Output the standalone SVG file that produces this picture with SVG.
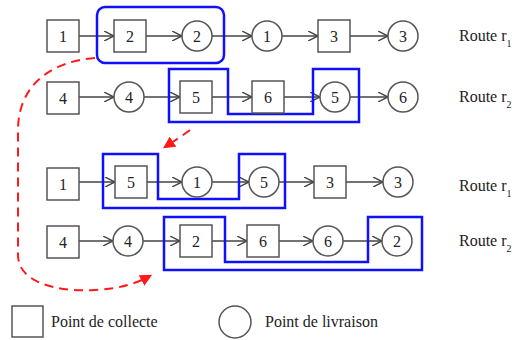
<svg xmlns="http://www.w3.org/2000/svg" width="512" height="340" viewBox="0 0 512 340">
<defs>
<marker id="ah" viewBox="0 0 10 10" refX="10" refY="5" markerWidth="10" markerHeight="10" markerUnits="userSpaceOnUse" orient="auto">
<path d="M0,0 L10,5 L0,10" fill="none" stroke="#444" stroke-width="1.4"/>
</marker>
<marker id="rh" viewBox="0 0 10 10" refX="8" refY="5" markerWidth="12" markerHeight="12" markerUnits="userSpaceOnUse" orient="auto">
<path d="M0,0 L10,5 L0,10 z" fill="#ff1a1a"/>
</marker>
</defs>
<style>
.sq{fill:#fff;stroke:#555;stroke-width:1.5}
.ci{fill:#fff;stroke:#555;stroke-width:1.5}
.lb{font-family:"Liberation Serif","Times New Roman",serif;font-size:16px;fill:#222;text-anchor:middle}
.tx{font-family:"Liberation Serif","Times New Roman",serif;font-size:16px;fill:#222}
.ar{stroke:#444;stroke-width:1.4;fill:none;marker-end:url(#ah)}
.bl{fill:none;stroke:#1010ff;stroke-width:2.5}
.rd{fill:none;stroke:#ff1a1a;stroke-width:2;stroke-dasharray:9,6}
</style>

<g id="connectors">
<!-- row 1 -->
<line class="ar" x1="79" y1="36" x2="114" y2="36"/>
<line class="ar" x1="146" y1="36" x2="182" y2="36"/>
<line class="ar" x1="212" y1="36" x2="252" y2="36"/>
<line class="ar" x1="282" y1="36" x2="318" y2="36"/>
<line class="ar" x1="350" y1="36" x2="388" y2="36"/>
<!-- row 2 -->
<line class="ar" x1="79" y1="97" x2="114" y2="97"/>
<line class="ar" x1="144" y1="97" x2="180" y2="97"/>
<line class="ar" x1="212" y1="97" x2="252" y2="97"/>
<line class="ar" x1="284" y1="97" x2="320" y2="97"/>
<line class="ar" x1="350" y1="97" x2="388" y2="97"/>
<!-- row 3 -->
<line class="ar" x1="79" y1="182" x2="115" y2="182"/>
<line class="ar" x1="147" y1="182" x2="182" y2="182"/>
<line class="ar" x1="212" y1="182" x2="249" y2="182"/>
<line class="ar" x1="279" y1="182" x2="314" y2="182"/>
<line class="ar" x1="346" y1="182" x2="383" y2="182"/>
<!-- row 4 -->
<line class="ar" x1="79" y1="241" x2="113" y2="241"/>
<line class="ar" x1="143" y1="241" x2="180" y2="241"/>
<line class="ar" x1="212" y1="241" x2="247" y2="241"/>
<line class="ar" x1="279" y1="241" x2="313" y2="241"/>
<line class="ar" x1="343" y1="241" x2="382" y2="241"/>
<!-- red dashed moves -->
<path class="rd" d="M95,58 C45,62 18,90 18,130 L18,255 C18,282 55,292 95,290 C118,289 135,284 150,276" marker-end="url(#rh)"/>
<path class="rd" d="M190,130 C182,136 174,141 165,147" marker-end="url(#rh)"/>
</g>

<g id="blue-boxes">
<rect class="bl" x="97" y="7" width="127" height="56" rx="8"/>
<polygon class="bl" points="169,69 228,69 228,114 313,114 313,69 359,69 359,122 169,122"/>
<polygon class="bl" points="103,154 158,154 158,199 239,199 239,154 285,154 285,208 103,208"/>
<polygon class="bl" points="164,217 225,217 225,262 368,262 368,217 422,217 422,270 164,270"/>
</g>

<g id="r1-a">
<g id="n-r1a-1"><rect class="sq" x="47" y="20" width="32" height="32"/><text class="lb" x="63" y="42">1</text></g>
<g id="n-r1a-2"><rect class="sq" x="114" y="20" width="32" height="32"/><text class="lb" x="130" y="42">2</text></g>
<g id="n-r1a-c2"><circle class="ci" cx="197" cy="36" r="15"/><text class="lb" x="197" y="42">2</text></g>
<g id="n-r1a-c1"><circle class="ci" cx="267" cy="36" r="15"/><text class="lb" x="267" y="42">1</text></g>
<g id="n-r1a-3"><rect class="sq" x="318" y="20" width="32" height="32"/><text class="lb" x="334" y="42">3</text></g>
<g id="n-r1a-c3"><circle class="ci" cx="403" cy="36" r="15"/><text class="lb" x="403" y="42">3</text></g>
</g>

<g id="r2-a">
<g id="n-r2a-4"><rect class="sq" x="47" y="82" width="32" height="32"/><text class="lb" x="63" y="104">4</text></g>
<g id="n-r2a-c4"><circle class="ci" cx="129" cy="97" r="15"/><text class="lb" x="129" y="103">4</text></g>
<g id="n-r2a-5"><rect class="sq" x="180" y="81" width="32" height="32"/><text class="lb" x="196" y="103">5</text></g>
<g id="n-r2a-6"><rect class="sq" x="252" y="81" width="32" height="32"/><text class="lb" x="268" y="103">6</text></g>
<g id="n-r2a-c5"><circle class="ci" cx="335" cy="97" r="15"/><text class="lb" x="335" y="103">5</text></g>
<g id="n-r2a-c6"><circle class="ci" cx="403" cy="97" r="15"/><text class="lb" x="403" y="103">6</text></g>
</g>

<g id="r1-b">
<g id="n-r1b-1"><rect class="sq" x="47" y="168" width="32" height="32"/><text class="lb" x="63" y="190">1</text></g>
<g id="n-r1b-5"><rect class="sq" x="115" y="166" width="32" height="32"/><text class="lb" x="131" y="188">5</text></g>
<g id="n-r1b-c1"><circle class="ci" cx="197" cy="182" r="15"/><text class="lb" x="197" y="188">1</text></g>
<g id="n-r1b-c5"><circle class="ci" cx="264" cy="182" r="15"/><text class="lb" x="264" y="188">5</text></g>
<g id="n-r1b-3"><rect class="sq" x="314" y="166" width="32" height="32"/><text class="lb" x="330" y="188">3</text></g>
<g id="n-r1b-c3"><circle class="ci" cx="398" cy="182" r="15"/><text class="lb" x="398" y="188">3</text></g>
</g>

<g id="r2-b">
<g id="n-r2b-4"><rect class="sq" x="47" y="226" width="32" height="32"/><text class="lb" x="63" y="248">4</text></g>
<g id="n-r2b-c4"><circle class="ci" cx="128" cy="241" r="15"/><text class="lb" x="128" y="247">4</text></g>
<g id="n-r2b-2"><rect class="sq" x="180" y="225" width="32" height="32"/><text class="lb" x="196" y="247">2</text></g>
<g id="n-r2b-6"><rect class="sq" x="247" y="225" width="32" height="32"/><text class="lb" x="263" y="247">6</text></g>
<g id="n-r2b-c6"><circle class="ci" cx="328" cy="241" r="15"/><text class="lb" x="328" y="247">6</text></g>
<g id="n-r2b-c2"><circle class="ci" cx="397" cy="241" r="15"/><text class="lb" x="397" y="247">2</text></g>
</g>

<g id="route-labels">
<text class="tx" x="459" y="41">Route r<tspan baseline-shift="sub" font-size="10">1</tspan></text>
<text class="tx" x="459" y="102">Route r<tspan baseline-shift="sub" font-size="10">2</tspan></text>
<text class="tx" x="459" y="191">Route r<tspan baseline-shift="sub" font-size="10">1</tspan></text>
<text class="tx" x="459" y="246">Route r<tspan baseline-shift="sub" font-size="10">2</tspan></text>
</g>

<g id="legend">
<rect class="sq" x="12" y="306" width="31" height="31"/>
<text class="tx" x="51" y="327">Point de collecte</text>
<circle class="ci" cx="235" cy="322" r="16"/>
<text class="tx" x="265" y="327">Point de livraison</text>
</g>
</svg>
